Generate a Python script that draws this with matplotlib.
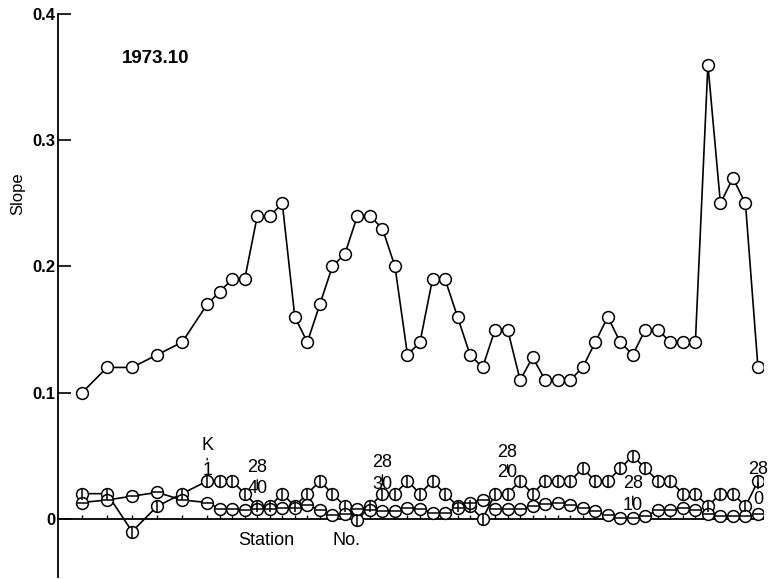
import matplotlib
matplotlib.use("Agg")
import matplotlib.pyplot as plt

# station numbers (first stations only every other one)
stations = [0, 2, 4, 6, 8, 10] + list(range(11, 55))

slope_top = [0.10, 0.12, 0.12, 0.13, 0.14, 0.17, 0.18, 0.19, 0.19, 0.24,
             0.24, 0.25, 0.16, 0.14, 0.17, 0.20, 0.21, 0.24, 0.24, 0.23,
             0.20, 0.13, 0.14, 0.19, 0.19, 0.16, 0.13, 0.12, 0.15, 0.15,
             0.11, 0.128, 0.11, 0.11, 0.11, 0.12, 0.14, 0.16, 0.14, 0.13,
             0.15, 0.15, 0.14, 0.14, 0.14, 0.36, 0.25, 0.27, 0.25, 0.12]

# circle with vertical bar
slope_vbar = [0.02, 0.02, -0.01, 0.01, 0.02, 0.03, 0.03, 0.03, 0.02, 0.01,
              0.01, 0.02, 0.01, 0.02, 0.03, 0.02, 0.01, -0.001, 0.01, 0.02,
              0.02, 0.03, 0.02, 0.03, 0.02, 0.01, 0.01, 0.0, 0.02, 0.02,
              0.03, 0.02, 0.03, 0.03, 0.03, 0.04, 0.03, 0.03, 0.04, 0.05,
              0.04, 0.03, 0.03, 0.02, 0.02, 0.01, 0.02, 0.02, 0.01, 0.03]

# circle with horizontal bar
slope_hbar = [0.013, 0.015, 0.018, 0.021, 0.015, 0.013, 0.008, 0.008, 0.007, 0.008,
              0.008, 0.009, 0.009, 0.011, 0.007, 0.003, 0.004, 0.008, 0.007, 0.006,
              0.006, 0.009, 0.008, 0.005, 0.005, 0.009, 0.013, 0.015, 0.008, 0.008,
              0.008, 0.010, 0.012, 0.013, 0.011, 0.009, 0.006, 0.003, 0.001, 0.001,
              0.002, 0.007, 0.007, 0.009, 0.007, 0.004, 0.002, 0.002, 0.002, 0.004]

# km post labels: station, upper text, lower text and their heights
post_stations = [10, 14, 24, 34, 44, 54]
post_upper = ["K", "28", "28", "28", "28", "28"]
post_lower = ["1", "40", "30", "20", "10", "0"]
post_upper_y = [0.058, 0.041, 0.045, 0.053, 0.028, 0.039]
post_lower_y = [0.038, 0.024, 0.027, 0.037, 0.011, 0.015]

yticks = [0, 0.1, 0.2, 0.3, 0.4]
ytick_labels = ["0", "0.1", "0.2", "0.3", "0.4"]

plt.rcParams["font.family"] = ["Liberation Sans", "DejaVu Sans"]

fig = plt.figure(figsize=(7.71, 5.79), dpi=100)
ax = fig.add_axes([0.0752, 0.0035, 0.9144, 0.9723])

line_kw = dict(color="black", lw=1.2, marker="o", ms=8.5, mfc="white",
               mec="black", mew=1.1)

ax.plot(stations, slope_top, zorder=3, **line_kw)
ax.plot(stations, slope_vbar, zorder=4, **line_kw)
ax.plot(stations, slope_vbar, ls="none", marker="|", ms=8.5, mew=1.1,
        color="black", zorder=5)
ax.plot(stations, slope_hbar, zorder=4, **line_kw)
ax.plot(stations, slope_hbar, ls="none", marker="_", ms=8.5, mew=1.1,
        color="black", zorder=5)

# post labels: upper text joined to the lower one by a short dash
for s, up, lo, yu, yl in zip(post_stations, post_upper, post_lower,
                             post_upper_y, post_lower_y):
    ax.annotate(up, xy=(s, yl), xytext=(s, yu), ha="center", va="center",
                fontsize=13, zorder=6,
                arrowprops=dict(arrowstyle="-", lw=1.0, color="black",
                                shrinkA=1, shrinkB=8))
    ax.text(s, yl, lo, ha="center", va="center", fontsize=13, zorder=6)

ax.set_xlim(-1.92, 54.4)
ax.set_ylim(-0.046, 0.4)

ax.spines["top"].set_visible(False)
ax.spines["right"].set_visible(False)
ax.spines["bottom"].set_position(("data", 0))
ax.spines["left"].set_linewidth(1.3)
ax.spines["bottom"].set_linewidth(1.3)

ax.set_yticks(yticks)
ax.set_yticklabels(ytick_labels, fontsize=12, fontweight="bold")
ax.tick_params(axis="y", direction="in", length=9, width=1.2, pad=2)
ax.set_xticks(stations)
ax.set_xticklabels([])
ax.tick_params(axis="x", direction="in", length=3, width=1.0)

ax.text(5.9, 0.365, "1973.10", fontsize=13.5, fontweight="bold",
        ha="center", va="center")
ax.text(-5.1, 0.258, "Slope", rotation=90, fontsize=12,
        ha="center", va="center", clip_on=False)
ax.text(14.7, -0.017, "Station", fontsize=13, ha="center", va="center")
ax.text(21.1, -0.017, "No.", fontsize=13, ha="center", va="center")

fig.savefig("out.png", dpi=100)
